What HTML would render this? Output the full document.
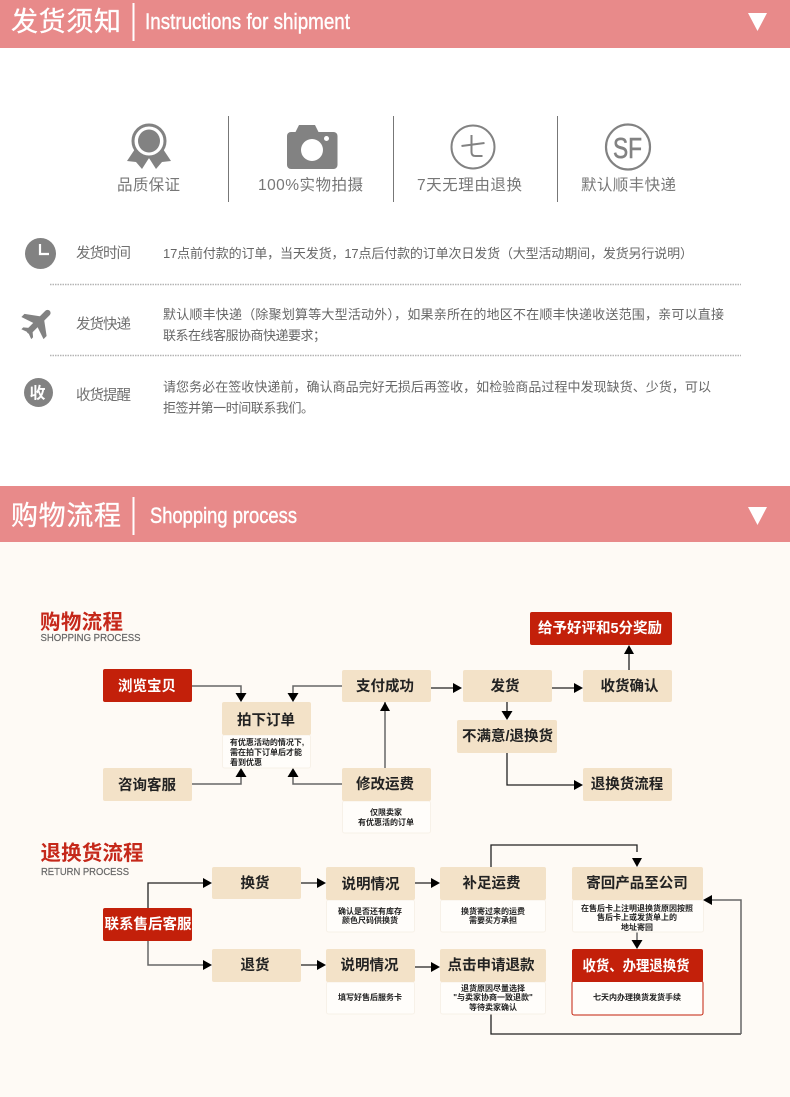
<!DOCTYPE html>
<html><head><meta charset="utf-8"><style>
html,body{margin:0;padding:0;background:#fff}
svg{display:block}
text{font-family:"Liberation Sans","Noto Sans CJK SC",sans-serif}
.w{fill:#fff}.g{fill:#6f6f6f;font-size:14.5px}.k{fill:#222;font-size:14.5px;font-weight:700;text-anchor:middle}
.t{fill:#666;font-size:13px}
.s{fill:#222;font-size:8px;text-anchor:middle;font-weight:700}
.b{fill:#f3e2c8}.r{fill:#c3200a}.p{fill:#fffdfa;stroke:#f7f1e8;stroke-width:1}
.c{fill:none;stroke:#222;stroke-width:1.3}.c2{fill:none;stroke:#666;stroke-width:1.5}
.a{fill:#000}.ic{fill:#828282}
</style></head><body>
<svg width="790" height="1097" viewBox="0 0 790 1097" xmlns="http://www.w3.org/2000/svg">
<rect width="790" height="1097" fill="#fff"/>
<rect width="790" height="48" fill="#e88a8a"/>
<text class="w" x="11" y="31" font-size="27" textLength="110" stroke="#fff" stroke-width=".3">发货须知</text>
<rect x="132.500" y="3" width="2" height="38" fill="#fff"/>
<text class="w" x="145" y="29" font-size="22" textLength="205" lengthAdjust="spacingAndGlyphs" stroke="#fff" stroke-width=".4">Instructions for shipment</text>
<polygon class="w" points="748,13 767,13 757.500,31"/>
<rect x="0" y="486" width="790" height="56" fill="#e88a8a"/>
<text class="w" x="11" y="525" font-size="27" textLength="110" stroke="#fff" stroke-width=".3">购物流程</text>
<rect x="132.500" y="497" width="2" height="38" fill="#fff"/>
<text class="w" x="150" y="523" font-size="22" textLength="147" lengthAdjust="spacingAndGlyphs" stroke="#fff" stroke-width=".4">Shopping process</text>
<polygon class="w" points="748,507 767,507 757.500,525"/>
<rect x="0" y="542" width="790" height="555" fill="#fefaf5"/>

<!-- icon row -->
<g fill="#777"><rect x="228" y="116" width="1" height="86"/><rect x="393" y="116" width="1" height="86"/><rect x="557" y="116" width="1" height="86"/></g>
<polygon class="ic" points="135,149 127,161 136,162 142,169 149,158 156,169 162,162 171,161 163,149 149,156"/>
<circle cx="149" cy="141" r="15" fill="#fff"/>
<ellipse cx="149" cy="141" rx="16" ry="16" fill="none" stroke="#828282" stroke-width="3"/><ellipse cx="149" cy="141" rx="11" ry="11.500" class="ic"/>
<rect x="287" y="132" width="50.500" height="37" rx="4" class="ic"/><path d="M295 133l4-8h16l4 8z" class="ic"/>
<circle cx="312" cy="150" r="11" fill="#fff"/><circle cx="326.500" cy="138.500" r="2.500" fill="#fff"/>
<circle cx="473" cy="147" r="21.500" fill="none" stroke="#828282" stroke-width="2"/>
<path d="M461.500 146l23-3M471.500 135v17q0 4 4 4h7" fill="none" stroke="#828282" stroke-width="2"/>
<ellipse cx="628" cy="147" rx="22" ry="22.500" fill="none" stroke="#828282" stroke-width="2.200"/>
<text x="613" y="158" font-size="29" fill="#828282" stroke="#828282" stroke-width=".6" textLength="29" lengthAdjust="spacingAndGlyphs">SF</text>
<g fill="#777" font-size="15.500">
<text x="117" y="190" textLength="63">品质保证</text>
<text x="258" y="190" textLength="105">100%实物拍摄</text>
<text x="417" y="190" textLength="105">7天无理由退换</text>
<text x="581" y="190" textLength="95">默认顺丰快递</text>
</g>

<!-- info rows -->
<circle cx="40.500" cy="253.500" r="15.500" class="ic"/>
<path d="M40 244v10h9" fill="none" stroke="#fff" stroke-width="2.200"/>
<g transform="translate(38 322.500) rotate(45) scale(.87)" class="ic">
<rect x="-3.500" y="-19" width="7" height="36" rx="3.500"/>
<polygon points="-3,-7 -18,4 -18,9 -3,4 3,4 18,9 18,4 3,-7"/>
<polygon points="-2,11 -8,16 -8,19 0,16 8,19 8,16 2,11"/>
</g>
<circle cx="38.500" cy="392.500" r="14.500" class="ic"/>
<text class="w" x="29.500" y="398.500" font-size="16" font-weight="700" textLength="18">收</text>
<text class="g" x="76" y="258" textLength="55">发货时间</text>
<text class="g" x="76" y="329" textLength="55">发货快递</text>
<text class="g" x="76" y="400" textLength="55">收货提醒</text>
<text class="t" x="163" y="258" textLength="530">17点前付款的订单，当天发货，17点后付款的订单次日发货（大型活动期间，发货另行说明）</text>
<text class="t" x="163" y="319" textLength="561">默认顺丰快递（除聚划算等大型活动外），如果亲所在的地区不在顺丰快递收送范围，亲可以直接</text>
<text class="t" x="163" y="340" textLength="163">联系在线客服协商快递要求；</text>
<text class="t" x="163" y="391.500" textLength="548">请您务必在签收快递前，确认商品完好无损后再签收，如检验商品过程中发现缺货、少货，可以</text>
<text class="t" x="163" y="412.500" textLength="151">拒签并第一时间联系我们。</text>
<path d="M50 284.500H741M50 355.500H741" stroke="#b5b5b5" stroke-width="1.600" stroke-dasharray="1.500 1"/>

<!-- headings -->
<text x="40" y="629" font-size="20.500" font-weight="700" fill="#c5281a" textLength="83">购物流程</text>
<text x="40.500" y="641" font-size="10.500" fill="#666" textLength="100" lengthAdjust="spacingAndGlyphs" stroke="#666" stroke-width=".2">SHOPPING PROCESS</text>
<text x="40.500" y="860" font-size="20.500" font-weight="700" fill="#c5281a" textLength="103">退换货流程</text>
<text x="41" y="875" font-size="10.500" fill="#666" textLength="88" lengthAdjust="spacingAndGlyphs" stroke="#666" stroke-width=".2">RETURN PROCESS</text>

<!-- connectors -->
<path class="c2" d="M192 686H241V695M342 686H293V695M385 702V768M342 784H293V775M192 784H241V775"/>
<path class="c" d="M431 688H455M552 688H575M629 670V652M507 702V713M507 753V785H575"/>
<path class="c" d="M301 883H318M415 883H432M301 965H318M415 967H432M148 908V883H204"/>
<path class="c2" d="M148 941V965H204M637 932V942"/>
<path class="c" d="M491 867V845H637V852M491 1014V1034H741"/>
<path class="c2" d="M741 1034V900H712"/>
<g class="a">
<polygon points="235.500,693 246.500,693 241,702"/><polygon points="287.500,693 298.500,693 293,702"/>
<polygon points="380,711 390,711 385,702"/><polygon points="235.500,777 246.500,777 241,768"/><polygon points="287.500,777 298.500,777 293,768"/>
<polygon points="453,683 462,688 453,693"/><polygon points="574,683 583,688 574,693"/>
<polygon points="624,654 634,654 629,645"/><polygon points="501.500,711 512.500,711 507,720"/><polygon points="574,780 583,785 574,790"/>
<polygon points="203,878 212,883 203,888"/><polygon points="317,878 326,883 317,888"/><polygon points="431,878 440,883 431,888"/>
<polygon points="203,960 212,965 203,970"/><polygon points="317,960 326,965 317,970"/><polygon points="431,962 440,967 431,972"/>
<polygon points="632,858 642,858 637,867"/><polygon points="631.500,940 642.500,940 637,949"/><polygon points="703,900 712,895 712,905"/>
</g>

<!-- notes -->
<rect class="p" x="222.500" y="735" width="88" height="33" rx="2"/>
<rect class="p" x="342.500" y="801" width="88" height="32" rx="2"/>
<rect class="p" x="326.500" y="900" width="88" height="32" rx="2"/>
<rect class="p" x="326.500" y="982" width="88" height="32" rx="2"/>
<rect class="p" x="440.500" y="900" width="105" height="32" rx="2"/>
<rect class="p" x="440.500" y="982" width="105" height="32" rx="2"/>
<rect class="p" x="572.500" y="900" width="131" height="32" rx="2"/>
<rect x="572" y="981" width="131" height="34" rx="2" fill="#fffdfa" stroke="#c3200a"/>

<!-- beige nodes -->
<g class="b">
<rect x="222" y="702" width="89" height="33" rx="2"/><rect x="103" y="768" width="89" height="33" rx="2"/>
<rect x="342" y="670" width="89" height="32" rx="2"/><rect x="342" y="768" width="89" height="33" rx="2"/>
<rect x="463" y="670" width="89" height="32" rx="2"/><rect x="583" y="670" width="89" height="32" rx="2"/>
<rect x="457" y="720" width="100" height="33" rx="2"/><rect x="583" y="768" width="89" height="33" rx="2"/>
<rect x="212" y="867" width="89" height="32" rx="2"/><rect x="326" y="867" width="89" height="33" rx="2"/>
<rect x="212" y="949" width="89" height="33" rx="2"/><rect x="326" y="949" width="89" height="33" rx="2"/>
<rect x="440" y="867" width="106" height="33" rx="2"/><rect x="440" y="949" width="106" height="33" rx="2"/>
<rect x="572" y="867" width="131" height="33" rx="2"/>
</g>
<g class="r">
<rect x="103" y="669" width="89" height="33" rx="2"/><rect x="530" y="612" width="142" height="33" rx="2"/>
<rect x="103" y="908" width="89" height="33" rx="2"/><rect x="572" y="949" width="131" height="33" rx="2"/>
</g>

<!-- labels -->
<g class="k">
<text x="266" y="725">拍下订单</text><text x="147" y="790">咨询客服</text>
<text x="385" y="691">支付成功</text><text x="385" y="789">修改运费</text>
<text x="505" y="691">发货</text><text x="629.500" y="691">收货确认</text>
<text x="507.500" y="741">不满意/退换货</text><text x="627" y="789">退换货流程</text>
<text x="255" y="888">换货</text><text x="370.500" y="889">说明情况</text>
<text x="255" y="970">退货</text><text x="369.500" y="970">说明情况</text>
<text x="491.500" y="888">补足运费</text><text x="491" y="970">点击申请退款</text>
<text x="637" y="888">寄回产品至公司</text>
</g>
<g class="k">
<text x="147" y="691" style="fill:#fff">浏览宝贝</text>
<text x="600" y="633" style="fill:#fff">给予好评和5分奖励</text>
<text x="148" y="929" style="fill:#fff">联系售后客服</text>
<text x="636" y="971" style="fill:#fff" textLength="107" lengthAdjust="spacingAndGlyphs">收货、办理退换货</text>
</g>

<!-- note text -->
<g class="s">
<text x="267" y="745">有优惠活动的情况下,</text><text x="266" y="755">需在拍下订单后才能</text><text x="246" y="765">看到优惠</text>
<text x="386" y="815">仅限卖家</text><text x="386" y="825">有优惠活的订单</text>
<text x="370" y="914">确认是否还有库存</text><text x="370" y="923">颜色尺码供换货</text>
<text x="370" y="1000">填写好售后服务卡</text>
<text x="493" y="914">换货寄过来的运费</text><text x="493" y="923">需要买方承担</text>
<text x="493" y="991">退货原因尽量选择</text><text x="493" y="1000">"与卖家协商一致退款"</text><text x="493" y="1010">等待卖家确认</text>
<text x="637" y="911">在售后卡上注明退换货原因按照</text><text x="637" y="920">售后卡上或发货单上的</text><text x="637" y="930">地址寄回</text>
<text x="637" y="1000">七天内办理换货发货手续</text>
</g>
</svg>
</body></html>
